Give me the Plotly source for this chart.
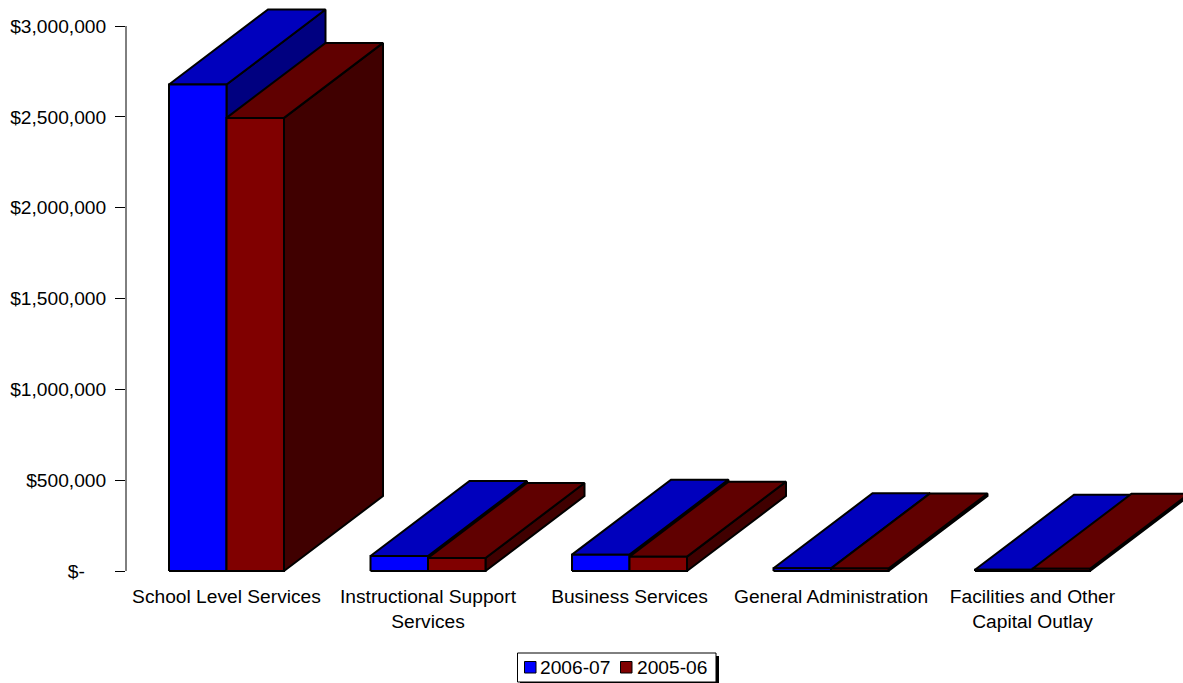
import plotly.graph_objects as go

# Expenditure by function, dollars
categories = [
    "School Level Services",
    "Instructional Support<br>Services",
    "Business Services",
    "General Administration",
    "Facilities and Other<br>Capital Outlay",
]
values_2006_07 = [2678000, 82500, 90000, 15000, 7000]
values_2005_06 = [2494000, 71500, 79000, 14000, 12000]
series_names = ["2006-07", "2005-06"]
y_tick_values = [0, 500000, 1000000, 1500000, 2000000, 2500000, 3000000]
y_tick_labels = ["$-\u00a0\u00a0\u00a0\u00a0", "$500,000", "$1,000,000", "$1,500,000",
                 "$2,000,000", "$2,500,000", "$3,000,000"]

# Frame and oblique projection settings
WIDTH, HEIGHT = 1183, 683
LEFT = 126
BASELINE_PX = 571
PLOT_BOTTOM_PX = 576  # a little room under zero so the bar outlines stay whole
CATEGORY_STEP_PX = 201.5
FIRST_CENTER_PX = 226.5
PX_PER_DOLLAR = 545 / 3000000
BAR_WIDTH = 57.5 / CATEGORY_STEP_PX
DEPTH_X = 99 / CATEGORY_STEP_PX
DEPTH_Y = 75 / PX_PER_DOLLAR
FONT = "Liberation Sans, Arial, sans-serif"
FONT_SIZE = 19.2

series_colors = [
    {"front": "#0000FF", "top": "#0000BD", "side": "#000080"},
    {"front": "#800000", "top": "#600000", "side": "#400000"},
]


def faces(values, offset):
    """Polygons of the front, top and side face of every bar in a series."""
    out = {"front": ([], []), "top": ([], []), "side": ([], [])}
    for i, v in enumerate(values):
        x0 = i + offset * BAR_WIDTH
        x1 = x0 + BAR_WIDTH
        polys = {
            "side": ([x1, x1 + DEPTH_X, x1 + DEPTH_X, x1, x1], [0, DEPTH_Y, v + DEPTH_Y, v, 0]),
            "top": ([x0, x1, x1 + DEPTH_X, x0 + DEPTH_X, x0], [v, v, v + DEPTH_Y, v + DEPTH_Y, v]),
            "front": ([x0, x1, x1, x0, x0], [0, 0, v, v, 0]),
        }
        for name, (xs, ys) in polys.items():
            out[name][0].extend(xs + [None])
            out[name][1].extend(ys + [None])
    return out


fig = go.Figure()
for values, offset, name, colors in zip(
    [values_2006_07, values_2005_06], [-1, 0], series_names, series_colors
):
    polygons = faces(values, offset)
    for face in ["side", "top", "front"]:
        xs, ys = polygons[face]
        fig.add_trace(go.Scatter(
            x=xs, y=ys, mode="lines", fill="toself", fillcolor=colors[face],
            line=dict(color="black", width=2), name=name, showlegend=False,
            hoverinfo="skip", cliponaxis=False,
        ))


def px_x(px):
    return (px - LEFT) / (WIDTH - LEFT)


def px_y(py):
    return (PLOT_BOTTOM_PX - py) / PLOT_BOTTOM_PX


def paper_rect(x0, y0, x1, y1, fill, line_width=1.0):
    return dict(type="rect", xref="paper", yref="paper",
                x0=px_x(x0), x1=px_x(x1), y0=px_y(y0), y1=px_y(y1),
                fillcolor=fill, line=dict(color="black", width=line_width))


# Value axis spine runs only up to the top tick
shapes = [dict(type="line", xref="paper", yref="y", x0=0, x1=0, y0=0, y1=y_tick_values[-1],
               line=dict(color="black", width=1))]

# Legend box with drop shadow
shapes.append(paper_rect(520, 656, 719, 685, "black", 0))
shapes.append(paper_rect(517.5, 653, 716, 682, "white", 1))
annotations = []
for swatch_x, text_x, name, colors in zip([524.5, 620.5], [539, 636], series_names, series_colors):
    shapes.append(paper_rect(swatch_x, 661.5, swatch_x + 11.5, 673, colors["front"], 1))
    annotations.append(dict(text=name, xref="paper", yref="paper", x=px_x(text_x), y=px_y(667.5),
                            xanchor="left", yanchor="middle", showarrow=False,
                            font=dict(family=FONT, size=FONT_SIZE, color="black"), borderpad=0))

fig.update_layout(
    width=WIDTH, height=HEIGHT,
    margin=dict(l=LEFT, r=0, t=0, b=HEIGHT - PLOT_BOTTOM_PX, autoexpand=False),
    paper_bgcolor="white", plot_bgcolor="white",
    showlegend=False, hovermode=False,
    font=dict(family=FONT, size=FONT_SIZE, color="black"),
    shapes=shapes, annotations=annotations,
    xaxis=dict(
        range=[(LEFT - FIRST_CENTER_PX) / CATEGORY_STEP_PX,
               (WIDTH - FIRST_CENTER_PX) / CATEGORY_STEP_PX],
        tickmode="array", tickvals=list(range(len(categories))), ticktext=categories,
        ticks="outside", ticklen=3, tickcolor="rgba(0,0,0,0)",
        showgrid=False, zeroline=False, showline=False, automargin=False,
        tickfont=dict(family=FONT, size=FONT_SIZE, color="black"), tickangle=0,
    ),
    yaxis=dict(
        range=[(BASELINE_PX - PLOT_BOTTOM_PX) / PX_PER_DOLLAR, BASELINE_PX / PX_PER_DOLLAR],
        tickmode="array", tickvals=y_tick_values, ticktext=y_tick_labels,
        ticks="outside", ticklen=10, tickwidth=1, tickcolor="black", ticklabelstandoff=5,
        showgrid=False, zeroline=False, showline=False, automargin=False,
        tickfont=dict(family=FONT, size=FONT_SIZE, color="black"),
    ),
)

fig.write_html("out.html", config={"displayModeBar": False})
